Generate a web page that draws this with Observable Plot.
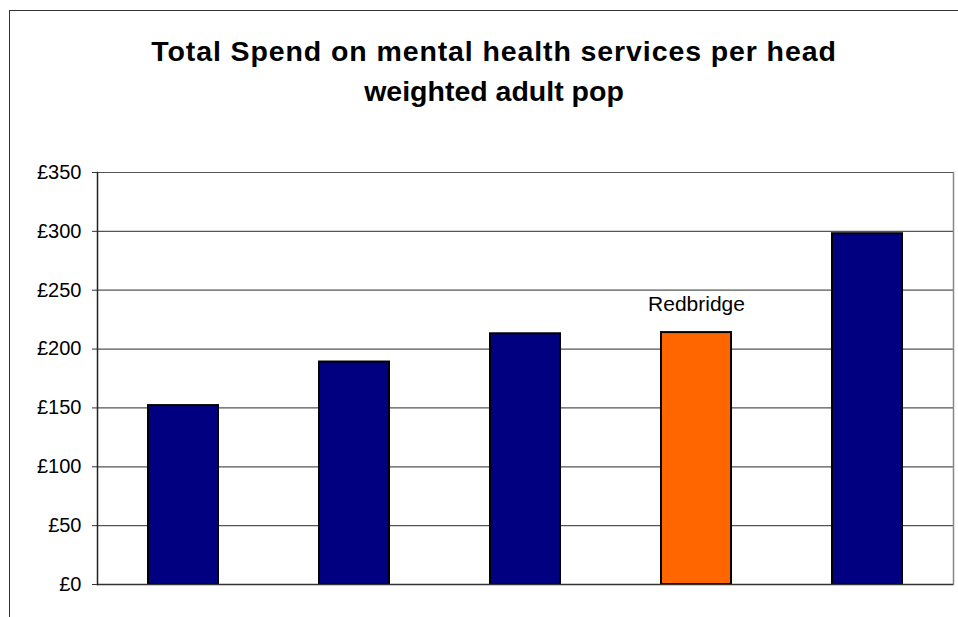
<!DOCTYPE html>
<html>
<head>
<meta charset="utf-8">
<script src="https://cdn.jsdelivr.net/npm/d3@7"></script>
<script src="https://cdn.jsdelivr.net/npm/@observablehq/plot@0.6"></script>
<style>
  html, body { margin: 0; padding: 0; background: #fff; }
  #wrap { position: relative; width: 958px; height: 617px; overflow: hidden; font-family: "Liberation Sans", Arial, sans-serif; }
  #frame { position: absolute; left: 9px; top: 10px; width: 1000px; height: 700px; border-left: 1.5px solid #333; border-top: 1.5px solid #333; }
  #title { position: absolute; left: 0; top: 31px; width: 988px; text-align: center; font-weight: bold; font-size: 28.5px; line-height: 40px; color: #000; }
  #title .l1 { letter-spacing: 0.9px; }
  #chart { position: absolute; left: 0; top: 0; }
</style>
</head>
<body>
<div id="wrap">
  <div id="frame"></div>
  <div id="title"><span class="l1">Total Spend on mental health services per head</span><br><span>weighted adult pop</span></div>
  <div id="chart"></div>
</div>
<script>
// Data
const categories = ["Area 1", "Area 2", "Area 3", "Redbridge", "Area 5"];
const spend = [152, 189, 213, 214, 298];
const highlight = "Redbridge";
const yTicks = [0, 50, 100, 150, 200, 250, 300, 350];

const rows = categories.map((c, i) => ({category: c, value: spend[i]}));

const chart = Plot.plot({
  width: 958,
  height: 617,
  marginTop: 172,
  marginBottom: 33,
  marginLeft: 97,
  marginRight: 5,
  style: {fontFamily: "'Liberation Sans', Arial, sans-serif", fontSize: "20px", background: "transparent", color: "#000"},
  x: {domain: categories, paddingInner: 0.59, paddingOuter: 0.295, axis: null},
  y: {domain: [0, 350], ticks: yTicks, tickFormat: d => "£" + d, tickSize: 5, tickPadding: 11, label: null},
  marks: [
    Plot.ruleY(yTicks.filter(d => d > 0), {stroke: "#555", strokeWidth: 1.2}),
    Plot.frame({anchor: "right", stroke: "#888", strokeWidth: 1.5}),
    Plot.barY(rows, {
      x: "category",
      y: "value",
      fill: d => d.category === highlight ? "#FF6600" : "#000080",
      stroke: "#000",
      strokeWidth: 2
    }),
    Plot.text(rows.filter(d => d.category === highlight), {
      x: "category",
      y: "value",
      text: "category",
      dy: -28,
      fontSize: 21,
      fill: "#000"
    }),
    Plot.ruleY([0], {stroke: "#333", strokeWidth: 1.5}),
    Plot.frame({anchor: "left", stroke: "#222", strokeWidth: 1.5}),
    Plot.axisY({ticks: yTicks, tickFormat: d => "£" + d, tickSize: 5, tickPadding: 11, label: null, stroke: "#333"})
  ]
});
document.getElementById("chart").appendChild(chart);
</script>
</body>
</html>
